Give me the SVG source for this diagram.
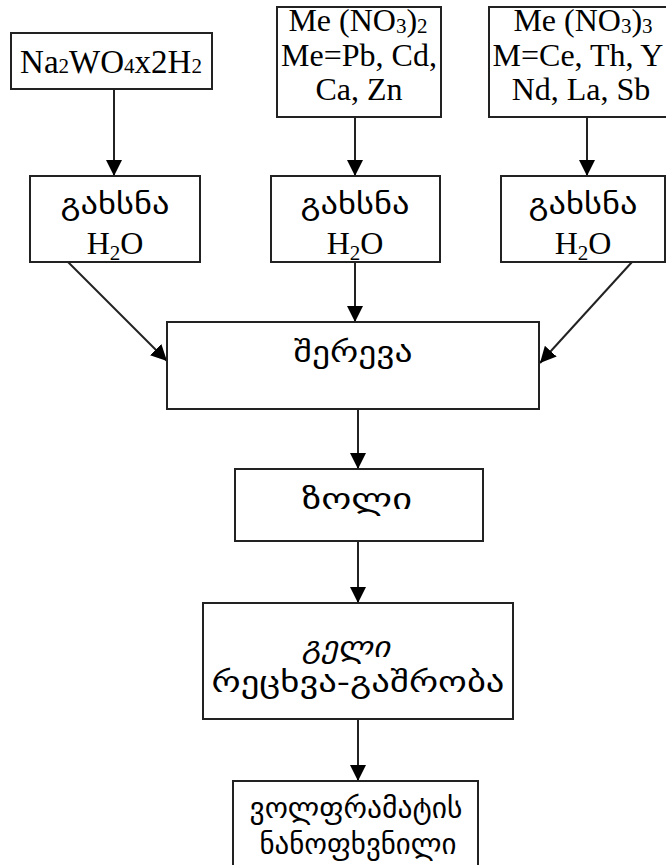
<svg xmlns="http://www.w3.org/2000/svg" width="666" height="865" viewBox="0 0 666 865">
<style>
.box{fill:#fff;stroke:#222;stroke-width:2}
text{fill:#000;text-anchor:middle}
.lat{font-family:'Liberation Serif','Times New Roman',serif;font-size:32px}
.geo{font-family:'DejaVu Sans','DejaVu Serif',sans-serif;font-size:29px}
.sub{font-size:21px}
.con{stroke:#222;stroke-width:2;fill:none;marker-end:url(#ah)}
</style>
<defs>
<marker id="ah" markerUnits="userSpaceOnUse" markerWidth="16" markerHeight="16" refX="16" refY="8" orient="auto" viewBox="0 0 16 16">
<path d="M0,0 L16,8 L0,16 z" fill="#000"/>
</marker>
</defs>
<rect width="666" height="865" fill="#fff"/>
<g id="connectors">
<line class="con" x1="114" y1="89" x2="114" y2="176"/>
<line class="con" x1="355" y1="117" x2="355" y2="176"/>
<line class="con" x1="587" y1="117" x2="587" y2="176"/>
<line class="con" x1="68" y1="262" x2="167" y2="361"/>
<line class="con" x1="355" y1="262" x2="355" y2="322"/>
<line class="con" x1="632" y1="262" x2="540" y2="363"/>
<line class="con" x1="358" y1="409" x2="358" y2="469"/>
<line class="con" x1="358" y1="541" x2="358" y2="603"/>
<line class="con" x1="358" y1="719" x2="358" y2="781"/>
</g>
<g id="n-na2wo4">
<rect class="box" x="11" y="33" width="201" height="56"/>
<text class="lat" x="111" y="73" style="font-size:33px">Na<tspan class="sub">2</tspan>WO<tspan class="sub">4</tspan>x2H<tspan class="sub">2</tspan></text>
</g>
<g id="n-me2">
<rect class="box" x="277" y="7" width="164" height="110"/>
<text class="lat" x="358" y="31">Me (NO<tspan class="sub" baseline-shift="-2">3</tspan>)<tspan class="sub" baseline-shift="-2">2</tspan></text>
<text class="lat" x="359" y="66">Me=Pb, Cd,</text>
<text class="lat" x="359" y="100">Ca, Zn</text>
</g>
<g id="n-me3">
<rect class="box" x="489" y="7" width="186" height="110"/>
<text class="lat" x="583" y="31">Me (NO<tspan class="sub" baseline-shift="-2">3</tspan>)<tspan class="sub" baseline-shift="-2">3</tspan></text>
<text class="lat" x="578" y="66">M=Ce, Th, Y</text>
<text class="lat" x="581" y="100">Nd, La, Sb</text>
</g>
<g id="n-diss1">
<rect class="box" x="30" y="176" width="170" height="86"/>
<text class="geo" x="115" y="214" textLength="109" lengthAdjust="spacingAndGlyphs">გახსნა</text>
<text class="lat" x="115" y="254">H<tspan class="sub" baseline-shift="-6">2</tspan>O</text>
</g>
<g id="n-diss2">
<rect class="box" x="271" y="176" width="169" height="86"/>
<text class="geo" x="355" y="214" textLength="109" lengthAdjust="spacingAndGlyphs">გახსნა</text>
<text class="lat" x="355" y="254">H<tspan class="sub" baseline-shift="-6">2</tspan>O</text>
</g>
<g id="n-diss3">
<rect class="box" x="501" y="176" width="164" height="86"/>
<text class="geo" x="583" y="214" textLength="109" lengthAdjust="spacingAndGlyphs">გახსნა</text>
<text class="lat" x="583" y="254">H<tspan class="sub" baseline-shift="-6">2</tspan>O</text>
</g>
<g id="n-mix">
<rect class="box" x="167" y="322" width="372" height="87"/>
<text class="geo" x="353" y="362" textLength="119" lengthAdjust="spacingAndGlyphs">შერევა</text>
</g>
<g id="n-sol">
<rect class="box" x="235" y="469" width="248" height="72"/>
<text class="geo" x="357" y="509" textLength="110" lengthAdjust="spacingAndGlyphs">ზოლი</text>
</g>
<g id="n-gel">
<rect class="box" x="203" y="603" width="310" height="116"/>
<text class="geo" x="346" y="657" font-style="italic" textLength="88" lengthAdjust="spacingAndGlyphs">გელი</text>
<text class="geo" x="358" y="692" textLength="293" lengthAdjust="spacingAndGlyphs">რეცხვა-გაშრობა</text>
</g>
<g id="n-powder">
<rect class="box" x="233" y="781" width="245" height="100"/>
<text class="geo" x="356" y="818" textLength="213" lengthAdjust="spacingAndGlyphs">ვოლფრამატის</text>
<text class="geo" x="358" y="854" textLength="197" lengthAdjust="spacingAndGlyphs">ნანოფხვნილი</text>
</g>
</svg>
